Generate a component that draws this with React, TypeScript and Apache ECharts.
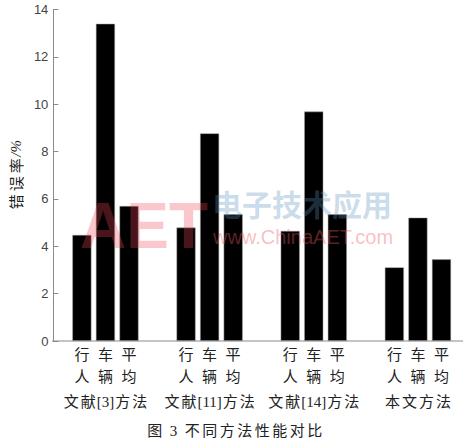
import React, { useEffect, useRef } from "react";
import * as echarts from "echarts";

const categories = ["文献[3]方法", "文献[11]方法", "文献[14]方法", "本文方法"];
const seriesNames = ["行人", "车辆", "平均"];
const pedestrian = [4.48, 4.79, 4.65, 3.11];
const vehicle = [13.4, 8.77, 9.69, 5.21];
const average = [5.7, 5.35, 5.35, 3.45];
const yTicks = { min: 0, max: 14, interval: 2 };
const yName = "错误率/%";
const caption = "图 3  不同方法性能对比";

const isCJK = (ch: string) => /[\u3400-\u9fff]/.test(ch);

function spaced(text: string, style: string, nstyle = "n") {
  let out = "";
  let buf = "";
  for (const ch of text) {
    if (isCJK(ch)) {
      if (buf) {
        out += `{${nstyle}|${buf}}`;
        buf = "";
      }
      out += `{${style}|${ch}}`;
    } else {
      buf += ch;
    }
  }
  if (buf) out += `{${nstyle}|${buf}}`;
  return out;
}

const SERIF = "'Liberation Serif', 'Noto Sans CJK SC', serif";
const CJK = "'Noto Sans CJK SC', sans-serif";

export default function App() {
  const ref = useRef<HTMLDivElement>(null);
  useEffect(() => {
    if (!ref.current) return;
    const chart = echarts.init(ref.current, undefined, { renderer: "svg" });
    const row1 = seriesNames.map((s) => `{c|${s[0]}}`).join("");
    const row2 = seriesNames.map((s) => `{d|${s[1]}}`).join("");
    const values = [pedestrian, vehicle, average];
    const capParts = caption.split(/\s+/);
    const captionRich =
      `{w|${capParts[0]}}{t|${capParts[1]}}` + spaced(capParts[2], "w");
    chart.setOption({
      animation: false,
      backgroundColor: "#ffffff",
      title: {
        text: captionRich,
        left: 146,
        top: 423,
        padding: 0,
        textStyle: {
          fontFamily: SERIF,
          fontSize: 15,
          fontWeight: "normal",
          color: "#222",
          rich: {
            w: { width: 17.5, align: "center", fontSize: 15, fontFamily: SERIF, color: "#222" },
            t: { width: 20, align: "left", fontSize: 15, fontFamily: SERIF, color: "#222" },
            n: { fontSize: 15, fontFamily: SERIF, color: "#222" },
          },
        },
      },
      grid: { left: 52, top: 9.6, width: 418, height: 331.4, containLabel: false },
      xAxis: {
        type: "category",
        data: categories,
        axisLine: { show: false },
        axisTick: { show: false },
        axisLabel: {
          margin: 3,
          interval: 0,
          fontFamily: SERIF,
          fontSize: 15,
          color: "#222",
          formatter: (v: string) => `${row1}\n${row2}\n${spaced(v, "g")}`,
          rich: {
            c: { width: 23.5, height: 22, lineHeight: 22, align: "center", fontSize: 15, fontFamily: SERIF, color: "#222" },
            d: { width: 23.5, height: 22, lineHeight: 22, align: "center", fontSize: 15, fontFamily: SERIF, color: "#222" },
            g: { width: 17, lineHeight: 27, align: "center", fontSize: 15, fontFamily: SERIF, color: "#222" },
            n: { lineHeight: 27, fontSize: 15, fontFamily: SERIF, color: "#222" },
          },
        },
      },
      yAxis: {
        type: "value",
        min: yTicks.min,
        max: yTicks.max,
        interval: yTicks.interval,
        name: spaced(yName, "y", "z"),
        nameLocation: "middle",
        nameGap: 30,
        nameTextStyle: {
          fontFamily: CJK,
          fontSize: 15,
          color: "#222",
          rich: {
            y: { width: 18, align: "center", fontFamily: CJK, fontSize: 15, color: "#222" },
            z: { fontFamily: "'Liberation Serif', serif", fontStyle: "italic", fontSize: 15, color: "#222" },
          },
        },
        axisLine: { show: true, lineStyle: { color: "#8a8a8a", width: 1 } },
        axisTick: { show: true, inside: true, length: 5, lineStyle: { color: "#8a8a8a" } },
        splitLine: { show: false },
        axisLabel: { margin: 5, fontFamily: "'Liberation Sans', sans-serif", fontSize: 13, color: "#444" },
      },
      graphic: [
        {
          type: "line",
          shape: { x1: 52, y1: 341, x2: 463, y2: 341 },
          style: { stroke: "#8a8a8a", lineWidth: 1 },
          z: 10,
        },
        {
          type: "text",
          x: 80,
          y: 194,
          z: 100,
          style: {
            text: "AET",
            fontSize: 64,
            fontWeight: "bold",
            fontFamily: "'Liberation Sans', sans-serif",
            fill: "rgba(240,70,85,0.3)",
          },
        },
        {
          type: "text",
          x: 212,
          y: 188,
          z: 100,
          style: {
            text: "电子技术应用",
            fontSize: 30,
            fontWeight: "bold",
            fontFamily: CJK,
            fill: "rgba(90,145,190,0.32)",
          },
        },
        {
          type: "text",
          x: 213,
          y: 227,
          z: 100,
          style: {
            text: "www.ChinaAET.com",
            fontSize: 20,
            fontFamily: "'Liberation Sans', sans-serif",
            fill: "rgba(240,90,100,0.4)",
          },
        },
      ],
      series: seriesNames.map((name, i) => ({
        name,
        type: "bar",
        data: values[i],
        barWidth: 19,
        barGap: "24%",
        itemStyle: { color: "#000000", borderColor: "#9a9a9a", borderWidth: 0.5 },
      })),
    });
    return () => chart.dispose();
  }, []);
  return (
    <div
      ref={ref}
      style={{ position: "fixed", left: 0, top: 0, width: 476, height: 442 }}
    />
  );
}
